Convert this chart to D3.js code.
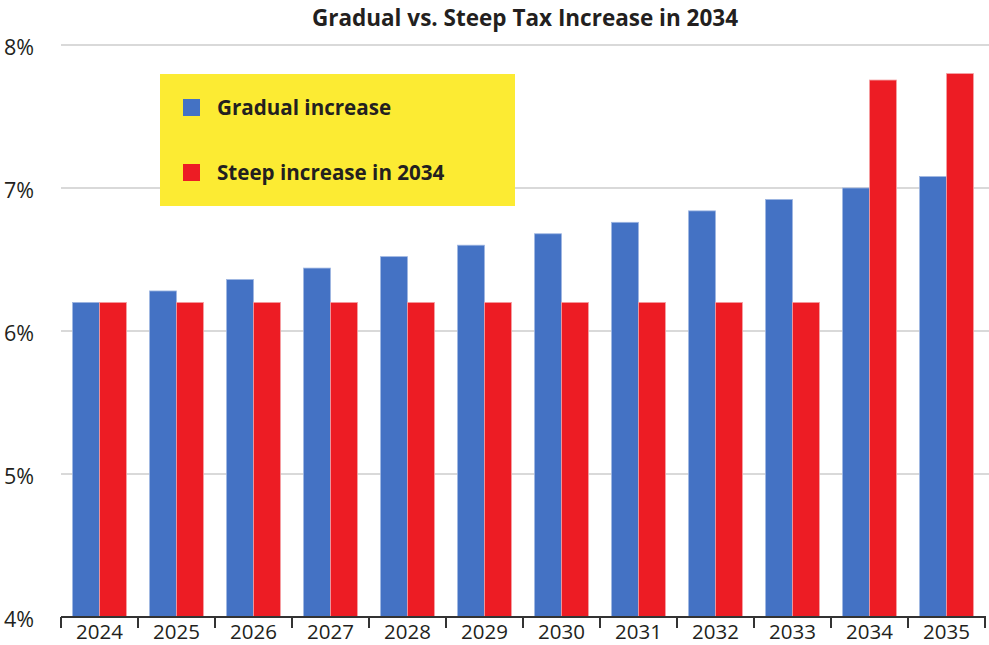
<!DOCTYPE html>
<html><head><meta charset="utf-8">
<script src="https://cdn.jsdelivr.net/npm/d3@7"></script>
<style>body{margin:0;background:#fff}svg{display:block}text{font-family:"Open Sans","Noto Sans",sans-serif;fill:#231f20}</style>
</head><body><svg id="c" width="989" height="645"></svg>
<script>
const years = ["2024","2025","2026","2027","2028","2029","2030","2031","2032","2033","2034","2035"];
const gradual = [6.2,6.28,6.36,6.44,6.52,6.6,6.68,6.76,6.84,6.92,7.0,7.08];
const steep = [6.2,6.2,6.2,6.2,6.2,6.2,6.2,6.2,6.2,6.2,7.755,7.8];
const yTicks = [4,5,6,7,8];
const seriesNames = ["Gradual increase","Steep increase in 2034"];
const colors = ["#4472C4","#ED1C24"];
const title = "Gradual vs. Steep Tax Increase in 2034";

const svg = d3.select("#c");
const x = d3.scaleBand().domain(years).range([61,985]).paddingInner(0.3).paddingOuter(0.15);
const x0 = d3.scaleBand().domain(years).range([61,985]);
const y = d3.scaleLinear().domain([4,8]).range([617,45]);

// gridlines
svg.append("g").selectAll("line").data(yTicks.slice(1)).join("line")
  .attr("x1",61).attr("x2",989).attr("y1",d=>y(d)).attr("y2",d=>y(d))
  .attr("stroke","#d9d9d9").attr("stroke-width",2);
// y labels
svg.append("g").selectAll("text").data(yTicks).join("text")
  .attr("x",4).attr("y",d=>y(d)+2).attr("dy","0.36em").attr("font-size",21.5)
  .text(d=>d+"%");

// bars
const sub = d3.scaleBand().domain([0,1]).range([0,x.bandwidth()]);
const data = years.flatMap((yr,i)=>[{yr,s:0,v:gradual[i]},{yr,s:1,v:steep[i]}]);
svg.append("g").selectAll("rect").data(data).join("rect")
  .attr("x",d=>x(d.yr)+sub(d.s)).attr("width",sub.bandwidth())
  .attr("y",d=>y(d.v)).attr("height",d=>y(4)-y(d.v))
  .attr("fill",d=>colors[d.s])
  .attr("stroke",d=>d.s===0?"#9fb6e2":"#f4a0a3").attr("stroke-width",0.8);

// x axis
const gx = svg.append("g").attr("transform","translate(0,617)");
gx.append("line").attr("x1",61).attr("x2",986).attr("stroke","#333").attr("stroke-width",2);
const bounds = years.map(d=>x0(d)).concat([x0.range()[1]]);
gx.selectAll(".tk").data(bounds).join("line").attr("class","tk")
  .attr("x1",d=>d).attr("x2",d=>d).attr("y1",0).attr("y2",11)
  .attr("stroke","#333").attr("stroke-width",2);
gx.selectAll("text").data(years).join("text")
  .attr("x",d=>x0(d)+x0.bandwidth()/2).attr("y",15).attr("dy","0.36em")
  .attr("text-anchor","middle").attr("font-size",20.5).text(d=>d);

// title
svg.append("text").attr("x",525).attr("y",18).attr("dy","0.36em").attr("text-anchor","middle")
  .attr("font-size",22.5).attr("font-weight","bold").text(title);

// legend
const lg = svg.append("g");
lg.append("rect").attr("x",160).attr("y",74).attr("width",355).attr("height",132).attr("fill","#FCEB33");
const ly = [108,173];
seriesNames.forEach((n,i)=>{
  lg.append("rect").attr("x",183).attr("y",ly[i]-9).attr("width",17).attr("height",17).attr("fill",colors[i]);
  lg.append("text").attr("x",217).attr("y",ly[i]).attr("dy","0.36em").attr("font-size",20.6)
    .attr("font-weight","bold").text(n);
});
</script></body></html>
